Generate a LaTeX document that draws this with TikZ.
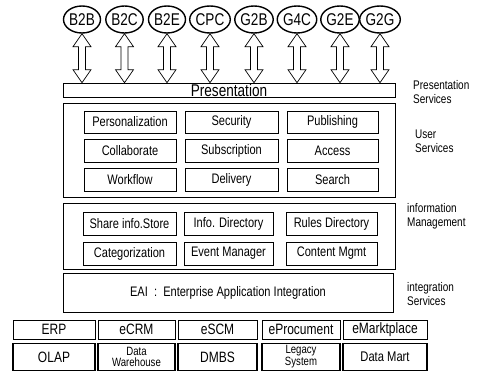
\documentclass[tikz,border=0pt]{standalone}
\usepackage{fontspec}
\setmainfont{Liberation Sans}[FakeStretch=0.8]
\usetikzlibrary{shapes.geometric,calc}
\tikzset{
  ell/.style={ellipse, draw, line width=1.4pt, minimum width=37pt, minimum height=27pt, inner sep=0pt, font=\fontsize{17}{18}\selectfont},
  outer/.style={draw, line width=0.6pt, inner sep=0pt},
  ibox/.style={draw, line width=0.9pt, inner sep=0pt, font=\fontsize{13.8}{15}\selectfont},
  bbox/.style={draw, line width=0.8pt, inner sep=0pt, font=\fontsize{15}{16}\selectfont},
  bbox2/.style={draw, line width=1.1pt, inner sep=0pt, font=\fontsize{15}{16}\selectfont, align=center},
  side/.style={anchor=west, align=left, inner sep=0pt, font=\fontsize{12.5}{14}\selectfont},
  arr/.style={draw, line width=0.7pt, fill=white, line join=miter}
}
\newcommand\hollowarrow[2]{%
  \draw[arr] let \p1=(#1), \p2=(#2) in
   (\x1,\y1) -- (\x1+9pt,\y1-13pt) -- (\x1+3.5pt,\y1-13pt) -- (\x1+3.5pt,\y2+13pt)
   -- (\x1+9pt,\y2+13pt) -- (\x1,\y2) -- (\x1-9pt,\y2+13pt) -- (\x1-3.5pt,\y2+13pt)
   -- (\x1-3.5pt,\y1-13pt) -- (\x1-9pt,\y1-13pt) -- cycle;}
\begin{document}
\begin{tikzpicture}[x=1pt,y=-1pt]
\useasboundingbox (0,0) rectangle (483,372);
% ellipses
\node[ell] (e1) at (82,19.5) {B2B};
\node[ell] (e2) at (124.5,19.5) {B2C};
\node[ell] (e3) at (167,19.5) {B2E};
\node[ell] (e4) at (210,19.5) {CPC};
\node[ell] (e5) at (254,19.5) {G2B};
\node[ell] (e6) at (297,19.5) {G4C};
\node[ell] (e7) at (340,19.5) {G2E};
\node[ell] (e8) at (380,19.5) {G2G};
% presentation
\node[outer, minimum width=332pt, minimum height=14pt, font=\fontsize{17}{18}\selectfont] (pres) at (229,90) {Presentation};
\foreach \i in {1,...,8} {
  \hollowarrow{e\i.south}{e\i.south |- pres.north}
}
% user services
\node[outer, minimum width=332pt, minimum height=94pt] (user) at (229,150) {};
\node[ibox, minimum width=92pt, minimum height=22pt] (u11) at (130,122) {Personalization};
\node[ibox, minimum width=93pt, minimum height=22pt] (u12) at (231.5,122) {Security};
\node[ibox, minimum width=91pt, minimum height=22pt] (u13) at (332.5,122) {Publishing};
\node[ibox, minimum width=92pt, minimum height=23pt] (u21) at (130,150.5) {Collaborate};
\node[ibox, minimum width=93pt, minimum height=23pt] (u22) at (231.5,150.5) {Subscription};
\node[ibox, minimum width=91pt, minimum height=23pt] (u23) at (332.5,150.5) {Access};
\node[ibox, minimum width=92pt, minimum height=23pt] (u31) at (130,179.5) {Workflow};
\node[ibox, minimum width=93pt, minimum height=23pt] (u32) at (231.5,179.5) {Delivery};
\node[ibox, minimum width=91pt, minimum height=23pt] (u33) at (332.5,179.5) {Search};
% information management
\node[outer, minimum width=332pt, minimum height=66pt] (info) at (229,236) {};
\node[ibox, minimum width=93pt, minimum height=23pt] (i11) at (129.5,223.5) {Share info.Store};
\node[ibox, minimum width=89pt, minimum height=23pt] (i12) at (228.5,223.5) {Info. Directory};
\node[ibox, minimum width=91pt, minimum height=23pt] (i13) at (331.5,223.5) {Rules Directory};
\node[ibox, minimum width=93pt, minimum height=23pt] (i21) at (129.5,253.5) {Categorization};
\node[ibox, minimum width=89pt, minimum height=23pt] (i22) at (228.5,253.5) {Event Manager};
\node[ibox, minimum width=91pt, minimum height=23pt] (i23) at (331.5,253.5) {Content Mgmt};
% EAI
\node[outer, minimum width=330pt, minimum height=39pt, font=\fontsize{13.8}{15}\selectfont] (eai) at (228,292.5) {EAI\ \ :\ \ Enterprise\ Application\ Integration};
% bottom rows
\node[bbox, minimum width=82pt, minimum height=19pt] (b11) at (54,329.5) {ERP};
\node[bbox, minimum width=77pt, minimum height=19pt] (b12) at (136.5,329.5) {eCRM};
\node[bbox, minimum width=79pt, minimum height=19pt] (b13) at (217.5,329.5) {eSCM};
\node[bbox, minimum width=78pt, minimum height=19pt] (b14) at (301,329.5) {eProcument};
\node[bbox, minimum width=84pt, minimum height=19pt] (b15) at (385,329.5) {eMarktplace};
\node[bbox2, minimum width=82pt, minimum height=27pt] (b21) at (54,357) {OLAP};
\node[bbox2, minimum width=77pt, minimum height=27pt, font=\fontsize{12}{10.5}\selectfont] (b22) at (136.5,357) {Data\\Warehouse};
\node[bbox2, minimum width=79pt, minimum height=27pt] (b23) at (217.5,357) {DMBS};
\node[bbox2, minimum width=78pt, minimum height=27pt, font=\fontsize{12}{10.5}\selectfont] (b24) at (301,357) {Legacy\\System};
\node[bbox2, minimum width=84pt, minimum height=27pt, font=\fontsize{14}{15}\selectfont] (b25) at (385,357) {Data Mart};
% side labels
\node[side] (l1) at (413,92) {Presentation\\Services};
\node[side] (l2) at (415,141) {User\\Services};
\node[side] (l3) at (407,216) {information\\Management};
\node[side] (l4) at (407,294) {integration\\Services};
\end{tikzpicture}
\end{document}
